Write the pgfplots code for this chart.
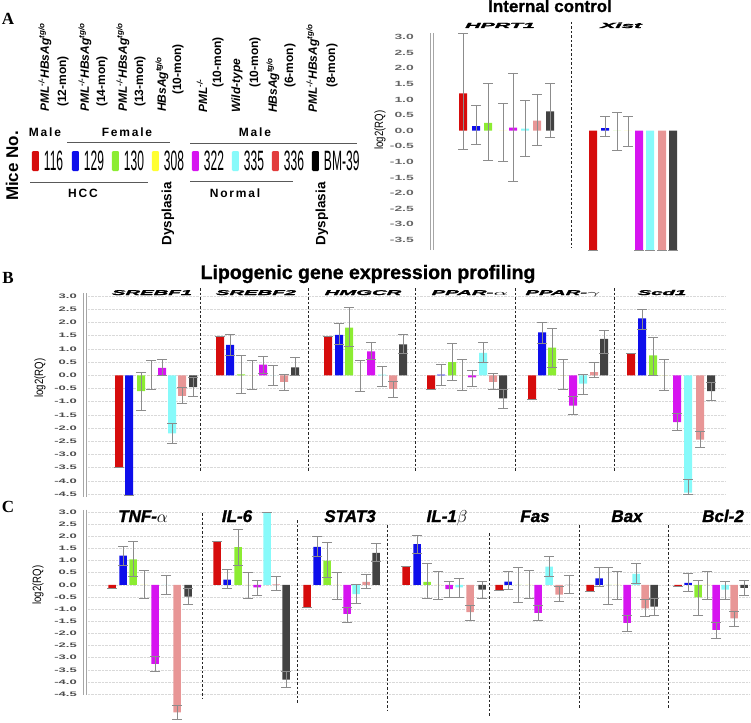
\documentclass[border=0pt]{standalone}
\usepackage{pgfplots}
\pgfplotsset{compat=1.18}
\usepackage{graphicx}
\usepackage{fontspec}
\setmainfont{Liberation Sans}
\newfontfamily\serifA{Liberation Serif}

\definecolor{cR}{RGB}{214,12,12}
\definecolor{cB}{RGB}{14,14,235}
\definecolor{cG}{RGB}{140,236,50}
\definecolor{cY}{RGB}{255,255,50}
\definecolor{cM}{RGB}{214,20,240}
\definecolor{cC}{RGB}{135,250,250}
\definecolor{cS}{RGB}{232,150,150}
\definecolor{cS2}{RGB}{226,60,60}
\definecolor{cD}{RGB}{66,66,66}
\definecolor{eg}{RGB}{140,140,140}

\newcommand\legnum[1]{\makebox[20pt][l]{\scalebox{0.43}[1]{\fontsize{28}{28}\selectfont #1}}}
\newcommand\swatch[1]{\fill[#1,rounded corners=1.2pt] (0pt,-10pt) rectangle (7pt,10pt);}
\newcommand\gA[2]{\scalebox{#1}[1]{\fontsize{7.5}{7.5}\selectfont\bfseries\itshape\addfontfeature{FakeBold=2}#2}}
\newcommand\gB[2]{\scalebox{#1}[1]{\fontsize{7}{7}\selectfont\bfseries\itshape\addfontfeature{FakeBold=2}#2}}
\newcommand\gC[1]{{\fontsize{17}{17}\selectfont\bfseries\itshape\addfontfeature{FakeBold=1.5}#1}}
\newcommand\lab[1]{{\fontsize{12}{13}\selectfont\bfseries #1}}
\newcommand\pml{\textit{PML\textsuperscript{-/-}}}
\newcommand\hbs{\textit{HBsAg\textsuperscript{tg/o}}}

\pgfplotsset{
  eb/.style={error bars/y dir=both, error bars/y explicit,
    error bars/error bar style={draw=eg, line width=0.9pt, solid},
    error bars/error mark options={draw=eg, line width=0.9pt, mark size=5pt, rotate=90}},
  bx/.style={ybar, bar shift=0pt, draw=none, eb},
  panel/.style={scale only axis, enlargelimits=false, clip=true,
    axis x line=none, axis y line*=left,
    y axis line style={draw=gray!70, double=white, double distance=2.6pt, line width=0.7pt},
    ytick style={draw=none},
    yticklabel={\scalebox{2.0}[1]{\pgfmathprintnumber[fixed,fixed zerofill,precision=1,assume math mode=true]{\tick}}},
    yticklabel style={font=\fontsize{6.5}{6.5}\selectfont\bfseries, text=black!70, inner sep=0pt, xshift=-8pt},
  },
}

\begin{document}
\begin{tikzpicture}
\useasboundingbox (0pt,0pt) rectangle (751pt,-722pt);

% ---------------- Panel A: internal control ----------------
\begin{axis}[panel, at={(432pt,-250pt)}, anchor=south west,
  width=258pt, height=217pt, xmin=432, xmax=690, ymin=-3.82, ymax=3.13,
  ytick={-3.5,-3,...,3},
  yticklabel={\scalebox{1.85}[1]{\pgfmathprintnumber[fixed,fixed zerofill,precision=1,assume math mode=true]{\tick}}},
  yticklabel style={font=\fontsize{7.5}{7.5}\selectfont\bfseries, text=black!60, xshift=-10pt},
  legend columns=8, legend cell align=left,
  legend style={at={(axis cs:32,-0.97)}, anchor=west, draw=none, fill=none,
    inner sep=0pt, outer sep=0pt, column sep=5pt, nodes={inner sep=0pt},
    /tikz/every even column/.append style={column sep=8pt}},
  error bars/error mark options={mark size=6pt},
]
\addplot[bx, fill=cR, bar width=8, legend image code/.code={\swatch{cR}}] coordinates {
 (463,1.2) += (0,1.9) -= (0,1.8)  (593,-3.82) += (0,0) -= (0,0)};
\addlegendentry{\legnum{116}}
\addplot[bx, fill=cB, bar width=8, legend image code/.code={\swatch{cB}}] coordinates {
 (476,0.15) += (0,0.65) -= (0,0.58)  (605,0.08) += (0,0.39) -= (0,0.26)};
\addlegendentry{\legnum{129}}
\addplot[bx, fill=cG, bar width=8, legend image code/.code={\swatch{cG}}] coordinates {
 (488,0.25) += (0,1.27) -= (0,1.2)  (617,0) += (0,0.58) -= (0,0.63)};
\addlegendentry{\legnum{130}}
\addplot[bx, fill=cY, bar width=8, legend image code/.code={\swatch{cY}}] coordinates {
 (503,0) += (0,0.88) -= (0,0.97)  (628,0) += (0,0.47) -= (0,0.5)};
\addlegendentry{\legnum{308}}
\addplot[bx, fill=cM, bar width=8, legend image code/.code={\swatch{cM}}] coordinates {
 (513,0.1) += (0,1.75) -= (0,1.72)  (639,-3.82) += (0,0) -= (0,0)};
\addlegendentry{\legnum{322}}
\addplot[bx, fill=cC, bar width=8, legend image code/.code={\swatch{cC}}] coordinates {
 (525,0.07) += (0,0.91) -= (0,0.89)  (650,-3.82) += (0,0) -= (0,0)};
\addlegendentry{\legnum{335}}
\addplot[bx, fill=cS, bar width=8, legend image code/.code={\swatch{cS2}}] coordinates {
 (537,0.32) += (0,0.83) -= (0,0.8)  (662,-3.82) += (0,0) -= (0,0)};
\addlegendentry{\legnum{336}}
\addplot[bx, fill=cD, bar width=8, legend image code/.code={\swatch{black}}] coordinates {
 (550,0.62) += (0,0.9) -= (0,0.84)  (673,-3.82) += (0,0) -= (0,0)};
\addlegendentry{\scalebox{0.43}[1]{\fontsize{28}{28}\selectfont BM-39}}
\end{axis}

% ---------------- Panel B: lipogenic genes ----------------
\begin{axis}[panel, at={(85pt,-496.7pt)}, anchor=south west,
  width=640pt, height=203.3pt, xmin=85, xmax=725, ymin=-4.6, ymax=3.1,
  ytick={-4.5,-4,...,3},
  ymajorgrids, grid style={gray!30, densely dotted, line width=0.5pt},
]
\addplot[bx, fill=cR, bar width=8] coordinates {
 (119,-3.5) += (0,0) -= (0,0)  (220,1.47) += (0,0) -= (0,0)  (328,1.47) += (0,0) -= (0,0)
 (431,-0.52) += (0,0) -= (0,0)  (532,-0.9) += (0,0) -= (0,0)  (631,0.82) += (0,0) -= (0,0)};
\addplot[bx, fill=cB, bar width=8] coordinates {
 (129,-4.55) += (0,0) -= (0,0)  (230,1.15) += (0,0.4) -= (0,0.4)  (339,1.53) += (0,0.42) -= (0,0.38)
 (441,0.02) += (0,0.39) -= (0,0.41)  (542,1.62) += (0,0.38) -= (0,0.42)  (642,2.15) += (0,0.35) -= (0,0.4)};
\addplot[bx, fill=cG, bar width=8] coordinates {
 (141,-0.6) += (0,0.72) -= (0,0.73)  (241,0.03) += (0,0.72) -= (0,0.71)  (349,1.8) += (0,0.75) -= (0,0.72)
 (452,0.5) += (0,0.72) -= (0,0.7)  (552,1.05) += (0,0.73) -= (0,0.76)  (653,0.75) += (0,0.7) -= (0,0.75)};
\addplot[bx, fill=cY, bar width=8] coordinates {
 (151,0) += (0,0.57) -= (0,0.55)  (252,0) += (0,0.57) -= (0,0.53)  (360,0) += (0,0.55) -= (0,0.6)
 (462,0) += (0,0.6) -= (0,0.57)  (563,0) += (0,0.58) -= (0,0.55)  (664,0) += (0,0.58) -= (0,0.57)};
\addplot[bx, fill=cM, bar width=8] coordinates {
 (162,0.28) += (0,0.3) -= (0,0.3)  (263,0.4) += (0,0.32) -= (0,0.32)  (371,0.9) += (0,0.35) -= (0,0.3)
 (472,-0.08) += (0,0.28) -= (0,0.36)  (573,-1.15) += (0,0.33) -= (0,0.33)  (677,-1.78) += (0,0.33) -= (0,0.3)};
\addplot[bx, fill=cC, bar width=8] coordinates {
 (172,-2.2) += (0,0.37) -= (0,0.37)  (273,0) += (0,0.38) -= (0,0.37)  (382,0.02) += (0,0.33) -= (0,0.44)
 (483,0.85) += (0,0.4) -= (0,0.35)  (583,-0.32) += (0,0.35) -= (0,0.4)  (688,-4.45) += (0,0.5) -= (0,0.05)};
\addplot[bx, fill=cS, bar width=8] coordinates {
 (182,-0.78) += (0,0.33) -= (0,0.3)  (284,-0.25) += (0,0.28) -= (0,0.32)  (393,-0.52) += (0,0.27) -= (0,0.33)
 (493,-0.25) += (0,0.33) -= (0,0.3)  (594,0.12) += (0,0.36) -= (0,0.22)  (700,-2.44) += (0,0.31) -= (0,0.31)};
\addplot[bx, fill=cD, bar width=8] coordinates {
 (193,-0.45) += (0,0.37) -= (0,0.35)  (295,0.3) += (0,0.37) -= (0,0.3)  (403,1.17) += (0,0.38) -= (0,0.33)
 (503,-0.88) += (0,0.33) -= (0,0.38)  (604,1.38) += (0,0.32) -= (0,0.56)  (711,-0.6) += (0,0.33) -= (0,0.35)};
\end{axis}

% ---------------- Panel C: inflammation / apoptosis ----------------
\begin{axis}[panel, at={(85pt,-722pt)}, anchor=south west,
  width=665pt, height=212.4pt, xmin=85, xmax=750, ymin=-5.65, ymax=3.1,
  ytick={-4.5,-4,...,3}, y axis line style={draw=none},
  ymajorgrids, grid style={gray!30, densely dotted, line width=0.5pt},
]
\addplot[bx, fill=cR, bar width=7.5] coordinates {
 (112,-0.15) += (0,0) -= (0,0)  (217,1.77) += (0,0) -= (0,0)  (307,-0.95) += (0,0) -= (0,0)
 (406,0.75) += (0,0) -= (0,0)  (499,-0.22) += (0,0) -= (0,0)  (590,-0.28) += (0,0) -= (0,0)  (678,-0.07) += (0,0) -= (0,0)};
\addplot[bx, fill=cB, bar width=7.5] coordinates {
 (123,1.2) += (0,0.4) -= (0,0.38)  (227,0.22) += (0,0.4) -= (0,0.37)  (317,1.57) += (0,0.41) -= (0,0.39)
 (417,1.68) += (0,0.37) -= (0,0.4)  (508,0.13) += (0,0.43) -= (0,0.33)  (599,0.27) += (0,0.43) -= (0,0.32)  (688,0.08) += (0,0.4) -= (0,0.36)};
\addplot[bx, fill=cG, bar width=7.5] coordinates {
 (133,1.05) += (0,0.72) -= (0,0.72)  (238,1.55) += (0,0.72) -= (0,0.75)  (327,1.0) += (0,0.75) -= (0,0.7)
 (427,0.12) += (0,0.78) -= (0,0.69)  (518,0) += (0,0.7) -= (0,0.74)  (608,0) += (0,0.7) -= (0,0.82)  (698,-0.52) += (0,0.72) -= (0,0.76)};
\addplot[bx, fill=cY, bar width=7.5] coordinates {
 (144,0) += (0,0.58) -= (0,0.55)  (248,0) += (0,0.53) -= (0,0.58)  (337,0) += (0,0.52) -= (0,0.62)
 (438,0) += (0,0.56) -= (0,0.6)  (529,0) += (0,0.6) -= (0,0.55)  (617,0) += (0,0.55) -= (0,0.62)  (707,0) += (0,0.55) -= (0,0.62)};
\addplot[bx, fill=cM, bar width=7.5] coordinates {
 (155,-3.25) += (0,0.32) -= (0,0.3)  (257,-0.1) += (0,0.28) -= (0,0.35)  (347,-1.2) += (0,0.28) -= (0,0.34)
 (449,-0.18) += (0,0.31) -= (0,0.32)  (538,-1.15) += (0,0.3) -= (0,0.32)  (627,-1.57) += (0,0.31) -= (0,0.36)  (716,-1.85) += (0,0.3) -= (0,0.35)};
\addplot[bx, fill=cC, bar width=7.5] coordinates {
 (166,0) += (0,0.38) -= (0,0.4)  (267,3.0) += (0,0) -= (0,0)  (356,-0.38) += (0,0.38) -= (0,0.37)
 (459,-0.1) += (0,0.37) -= (0,0.4)  (549,0.75) += (0,0.42) -= (0,0.39)  (636,0.45) += (0,0.45) -= (0,0.4)  (725,-0.2) += (0,0.35) -= (0,0.42)};
\addplot[bx, fill=cS, bar width=7.5] coordinates {
 (177,-5.25) += (0,0.3) -= (0,0.3)  (276,0.02) += (0,0.33) -= (0,0.27)  (366,0.12) += (0,0.31) -= (0,0.27)
 (470,-1.12) += (0,0.27) -= (0,0.35)  (559,-0.4) += (0,0.34) -= (0,0.3)  (645,-0.97) += (0,0.37) -= (0,0.33)  (734,-1.38) += (0,0.28) -= (0,0.32)};
\addplot[bx, fill=cD, bar width=7.5] coordinates {
 (188,-0.48) += (0,0.33) -= (0,0.34)  (286,-3.9) += (0,0.35) -= (0,0.33)  (376,1.32) += (0,0.37) -= (0,0.34)
 (482,-0.2) += (0,0.33) -= (0,0.35)  (569,0) += (0,0.38) -= (0,0.34)  (654,-0.9) += (0,0.35) -= (0,0.38)  (744,-0.12) += (0,0.3) -= (0,0.33)};
\end{axis}

% ---------------- decorations and text ----------------
\begin{scope}[x=1pt, y=-1pt]
% panel C double axis line
\draw[draw=gray!70, double=white, double distance=2.6pt, line width=0.7pt] (85,509.6) -- (85,695);
% separators
\begin{scope}[black!85, line width=0.9pt, dash pattern=on 2.5pt off 2pt]
\draw (571,22) -- (571,248);
\foreach \xx in {200,308,415,515,614} \draw (\xx,288) -- (\xx,472);
\draw (202,513) -- (202,698);
\draw (297,520) -- (297,703);
\draw (387,525) -- (387,710);
\draw (489,533) -- (489,717);
\draw (579,525) -- (579,708);
\draw (668,525) -- (668,708);
\end{scope}

% panel letters
\node[anchor=base, inner sep=0pt] at (8,25) {\serifA\fontsize{17}{17}\selectfont\bfseries A};
\node[anchor=base, inner sep=0pt] at (8,283) {\serifA\fontsize{17}{17}\selectfont\bfseries B};
\node[anchor=base, inner sep=0pt] at (8,512) {\serifA\fontsize{17}{17}\selectfont\bfseries C};

% titles
\node[anchor=base, inner sep=0pt] at (550,12) {\fontsize{17}{17}\selectfont\bfseries\addfontfeature{FakeBold=1}Internal control};
\node[anchor=base, inner sep=0pt] at (368,279) {\fontsize{19.5}{19.5}\selectfont\bfseries\addfontfeature{FakeBold=1}Lipogenic gene expression profiling};

% y labels
\node[rotate=90, inner sep=0pt] at (380,130) {\scalebox{0.8}[1]{\fontsize{12}{12}\selectfont log2(RQ)}};
\node[rotate=90, inner sep=0pt] at (40,378) {\scalebox{0.8}[1]{\fontsize{12}{12}\selectfont log2(RQ)}};
\node[rotate=90, inner sep=0pt] at (38,585) {\scalebox{0.8}[1]{\fontsize{12}{12}\selectfont log2(RQ)}};

% gene labels A
\node[anchor=base, inner sep=0pt] at (500,28) {\gA{2.85}{HPRT1}};
\node[anchor=base, inner sep=0pt] at (621,28) {\gA{3.0}{Xist}};
% gene labels B
\node[anchor=base, inner sep=0pt] at (152,295) {\gB{2.9}{SREBF1}};
\node[anchor=base, inner sep=0pt] at (256,295) {\gB{2.9}{SREBF2}};
\node[anchor=base, inner sep=0pt] at (363,295) {\gB{2.9}{HMGCR}};
\node[anchor=base, inner sep=0pt] at (470,295) {\gB{2.9}{PPAR-$\alpha$}};
\node[anchor=base, inner sep=0pt] at (563,295) {\gB{2.9}{PPAR-$\gamma$}};
\node[anchor=base, inner sep=0pt] at (662,295) {\gB{2.9}{Scd1}};
% gene labels C
\node[anchor=base, inner sep=0pt] at (143,522) {\gC{TNF-$\alpha$}};
\node[anchor=base, inner sep=0pt] at (237,522) {\gC{IL-6}};
\node[anchor=base, inner sep=0pt] at (350,522) {\gC{STAT3}};
\node[anchor=base, inner sep=0pt] at (447,522) {\gC{IL-1$\beta$}};
\node[anchor=base, inner sep=0pt] at (535,522) {\gC{Fas}};
\node[anchor=base, inner sep=0pt] at (627,522) {\gC{Bax}};
\node[anchor=base, inner sep=0pt] at (723,522) {\gC{Bcl-2}};

% mouse descriptions (rotated)
\begin{scope}[every node/.style={rotate=90, anchor=west, inner sep=0pt}]
\node at (45,112) {\lab{\pml\hbs}};
\node at (63,107) {\lab{(12-mon)}};
\node at (85,112) {\lab{\pml\hbs}};
\node at (102,107) {\lab{(14-mon)}};
\node at (123,112) {\lab{\pml\hbs}};
\node at (140,107) {\lab{(13-mon)}};
\node at (162,112) {\lab{\hbs}};
\node at (178,95) {\lab{(10-mon)}};
\node at (202,113) {\lab{\pml}};
\node at (218,88) {\lab{(10-mon)}};
\node at (237,113) {\lab{\textit{Wild-type}}};
\node at (255,88) {\lab{(10-mon)}};
\node at (273,113) {\lab{\hbs}};
\node at (290,88) {\lab{(6-mon)}};
\node at (313,113) {\lab{\pml\hbs}};
\node at (332,88) {\lab{(8-mon)}};
\end{scope}
\node[rotate=90, inner sep=0pt] at (12,166) {\fontsize{17}{17}\selectfont\bfseries Mice No.};
\node[rotate=90, inner sep=0pt] at (168,214) {\fontsize{13.5}{13.5}\selectfont\bfseries Dysplasia};
\node[rotate=90, inner sep=0pt] at (322,214) {\fontsize{13.5}{13.5}\selectfont\bfseries Dysplasia};

\begin{scope}[every node/.style={anchor=base, inner sep=0pt, font=\fontsize{12}{12}\selectfont\bfseries\addfontfeature{LetterSpace=15}}]
\node at (45,137) {Male};
\node at (127,137) {Female};
\node at (255,137) {Male};
\node at (83,197) {HCC};
\node at (235,197) {Normal};
\end{scope}
\begin{scope}[black!65, line width=0.8pt]
\draw (67,142) -- (170,142);
\draw (190,143) -- (357,143);
\draw (30,182) -- (148,182);
\draw (190,181) -- (293,181);
\end{scope}
\end{scope}
\end{tikzpicture}
\end{document}
